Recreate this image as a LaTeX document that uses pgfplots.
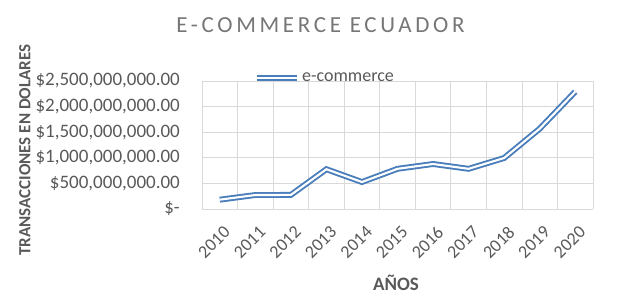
\documentclass[border=0pt]{standalone}
\usepackage{pgfplots}
\pgfplotsset{compat=1.18}
\usepackage{fontspec}
\setmainfont{Carlito}
\definecolor{lineblue}{RGB}{74,126,187}
\definecolor{txtgray}{RGB}{89,89,89}
\definecolor{titlegray}{RGB}{118,118,118}
\definecolor{gridgray}{RGB}{217,217,217}
\begin{document}
\begin{tikzpicture}
\useasboundingbox (0,0) rectangle (644bp,304bp);
\begin{axis}[
  at={(202bp,95bp)}, anchor=south west,
  scale only axis, width=391bp, height=128bp,
  xmin=-0.5, xmax=10.5, ymin=0, ymax=2500000000,
  scaled y ticks=false,
  axis line style={draw=none},
  xtick={0,1,2,3,4,5,6,7,8,9,10},
  xticklabels={2010,2011,2012,2013,2014,2015,2016,2017,2018,2019,2020},
  minor xtick={-0.5,0.5,1.5,2.5,3.5,4.5,5.5,6.5,7.5,8.5,9.5,10.5},
  ytick={0,500000000,1000000000,1500000000,2000000000,2500000000},
  yticklabels={{\$-\hspace{0.5em}},{\$500,000,000.00},{\$1,000,000,000.00},{\$1,500,000,000.00},{\$2,000,000,000.00},{\$2,500,000,000.00}},
  major tick length=0pt, minor tick length=0pt,
  ymajorgrids, xminorgrids,
  grid style={gridgray, line width=0.75bp},
  minor grid style={gridgray, line width=0.75bp},
  yticklabel style={anchor=east, inner sep=0pt, xshift=-22bp,
    font=\fontsize{19bp}{21bp}\selectfont, text=txtgray},
  xticklabel style={xshift=3bp, yshift=-16bp, rotate=45, anchor=north east, inner sep=0pt,
    font=\fontsize{18bp}{20bp}\selectfont, text=txtgray},
  title={E-COMMERCE ECUADOR},
  title style={at={(axis description cs:0.303,1)}, anchor=center, yshift=50bp,
    font=\fontsize{23bp}{27bp}\selectfont\addfontfeature{LetterSpace=16}, text=titlegray},
  xlabel={AÑOS},
  xlabel style={at={(axis description cs:0.496,0)}, anchor=center, yshift=-74bp,
    font=\fontsize{19bp}{22bp}\selectfont\bfseries, text=txtgray},
  ylabel={TRANSACCIONES EN DOLARES},
  ylabel style={at={(axis description cs:-0.453,0.46)}, anchor=center,
    font=\fontsize{17bp}{20bp}\selectfont\bfseries, text=txtgray},
  legend style={at={(axis description cs:0.133,1)}, anchor=west, yshift=3bp,
    draw=none, fill=none, inner sep=0pt,
    font=\fontsize{18bp}{20bp}\selectfont, text=txtgray},
  legend image code/.code={\draw[#1] (0bp,0bp) -- (40bp,0bp);},
]
\addplot[color=lineblue, line width=1.9bp, double=white, double distance=2.1bp, mark=none]
  coordinates {
  (0,182000000) (1,273000000) (2,275000000) (3,777000000) (4,527000000)
  (5,785000000) (6,879000000) (7,785000000) (8,996000000) (9,1568000000)
  (10,2291000000)
  };
\addlegendentry{e-commerce}
\end{axis}
\end{tikzpicture}
\end{document}
